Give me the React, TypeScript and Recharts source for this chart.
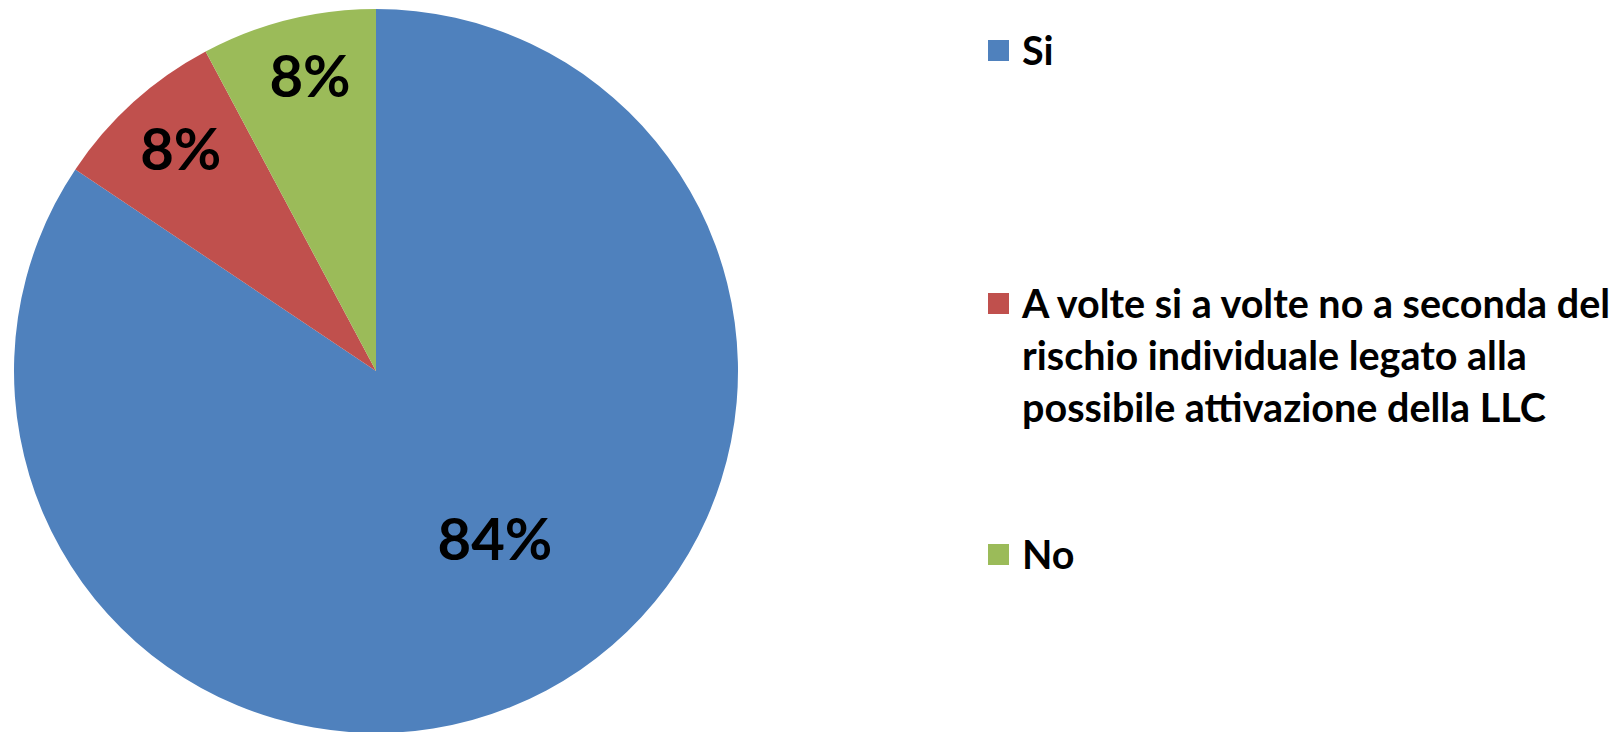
import React from 'react';
import { PieChart, Pie, Cell, Legend } from 'recharts';

// ─── Data ─────────────────────────────────────────────────────────────────────

const categories = [
  'Si',
  'A volte si a volte no a seconda del\nrischio individuale legato alla\npossibile attivazione della LLC',
  'No',
];
const values = [84.4, 7.8, 7.8];

// ─── Style ────────────────────────────────────────────────────────────────────

const COLOURS = ['#4F81BD', '#C0504D', '#9BBB59'];
const FONT = 'Lato, "Open Sans", "Noto Sans", sans-serif';

// where each percentage sits: fraction of the radius and an angle nudge (deg)
const LABEL_PLACEMENT = [
  { r: 0.565, shift: 7.5 },
  { r: 0.82, shift: -1 },
  { r: 0.84, shift: -1.5 },
];

// gap above each legend entry
const LEGEND_GAPS = [0, 201, 95];

const RADIAN = Math.PI / 180;

const chartData = categories.map((name, i) => ({ name, value: values[i] }));

function renderLabel(props: any) {
  const { cx, cy, midAngle, outerRadius, percent, index } = props;
  const place = LABEL_PLACEMENT[index] ?? { r: 0.6, shift: 0 };
  const angle = (midAngle + place.shift) * RADIAN;
  const radius = outerRadius * place.r;
  const x = cx + radius * Math.cos(angle);
  const y = cy - radius * Math.sin(angle);
  return (
    <text
      x={x}
      y={y}
      textAnchor="middle"
      dominantBaseline="central"
      fill="#000"
      fontFamily={FONT}
      fontWeight={700}
      fontSize={58}
    >
      {`${Math.round(percent * 100)}%`}
    </text>
  );
}

function renderLegend(props: any) {
  // keep the entries in data order (Recharts sorts them by name otherwise)
  const items = [...(props.payload ?? [])].sort(
    (a: any, b: any) => categories.indexOf(a.value) - categories.indexOf(b.value)
  );
  return (
    <div style={{ display: 'flex', flexDirection: 'column' }}>
      {items.map((entry: any, i: number) => (
        <div
          key={entry.value}
          style={{
            display: 'flex',
            alignItems: 'flex-start',
            marginTop: LEGEND_GAPS[i] ?? 0,
          }}
        >
          <span
            style={{
              width: 21,
              height: 21,
              marginTop: 16,
              marginRight: 13,
              flexShrink: 0,
              background: entry.color,
            }}
          />
          <span
            style={{
              whiteSpace: 'pre-line',
              fontFamily: FONT,
              fontWeight: 700,
              fontSize: 39.5,
              lineHeight: '52px',
              color: '#000',
            }}
          >
            {entry.value}
          </span>
        </div>
      ))}
    </div>
  );
}

export default function App() {
  return (
    <div
      style={{
        position: 'absolute',
        left: 0,
        top: 0,
        width: 1622,
        height: 732,
        overflow: 'hidden',
        background: '#fff',
      }}
    >
      <PieChart width={1622} height={732} margin={{ top: 0, right: 0, bottom: 0, left: 0 }}>
        <Pie
          data={chartData}
          dataKey="value"
          nameKey="name"
          cx={376}
          cy={371}
          outerRadius={362}
          startAngle={90}
          endAngle={-270}
          stroke="none"
          label={renderLabel}
          labelLine={false}
          isAnimationActive={false}
        >
          {chartData.map((d, i) => (
            <Cell key={d.name} fill={COLOURS[i]} />
          ))}
        </Pie>
        <Legend
          layout="vertical"
          align="right"
          verticalAlign="top"
          content={renderLegend}
          wrapperStyle={{ position: 'absolute', left: 988, top: 24, width: 634 }}
        />
      </PieChart>
    </div>
  );
}
